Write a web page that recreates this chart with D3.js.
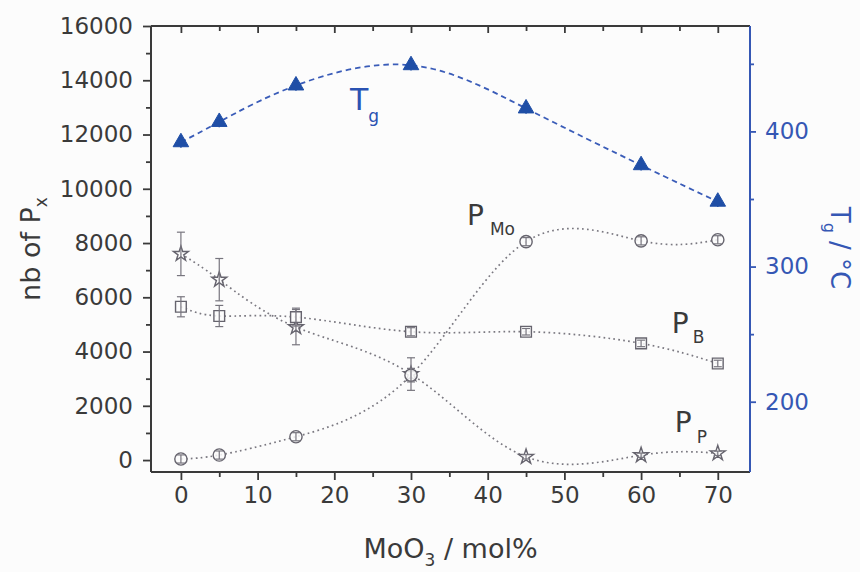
<!DOCTYPE html>
<html>
<head>
<meta charset="utf-8">
<script src="https://cdn.jsdelivr.net/npm/d3@7"></script>
<style>
  html, body { margin: 0; padding: 0; background: #fcfcfc; }
  svg { display: block; font-family: "DejaVu Sans", "Liberation Sans", sans-serif; }
</style>
</head>
<body>
<svg id="chart" width="860" height="572"></svg>
<script>
// MoO3 content (mol%)
const molPct = [0, 5, 15, 30, 45, 60, 70];

// number of P_P, P_B, P_Mo units, with error bars
const nbPP   = [7600, 6650, 4900, 3170, 120, 180, 250];
const errPP  = [800, 780, 650, 600, 80, 80, 80];
const nbPB   = [5650, 5310, 5270, 4730, 4730, 4300, 3560];
const errPB  = [370, 390, 330, 150, 120, 120, 120];
const nbPMo  = [40, 185, 860, 3130, 8050, 8080, 8120];
const errPMo = [150, 150, 150, 250, 150, 150, 150];

// glass transition temperature (°C)
const tg    = [392, 407, 434, 449, 417, 375, 348];
const tgErr = [4, 4, 4, 4, 4, 4, 4];

// tick values
const xTicks      = [0, 10, 20, 30, 40, 50, 60, 70];
const xMinor      = [5, 15, 25, 35, 45, 55, 65];
const yLeftTicks  = [0, 2000, 4000, 6000, 8000, 10000, 12000, 14000, 16000];
const yLeftMinor  = [1000, 3000, 5000, 7000, 9000, 11000, 13000, 15000];
const yRightTicks = [200, 300, 400];
const yRightMinor = [250, 350, 450];

const frame = { left: 151, right: 750, top: 26, bottom: 472 };
const ink = "#3a3a3a";
const blue = "#3557b4";
const markGray = "#66646e";
const bg = "#fcfcfc";

const svg = d3.select("#chart");

const x  = d3.scaleLinear().domain([-3.9, 74.2]).range([frame.left, frame.right]);
const yL = d3.scaleLinear().domain([-440, 16000]).range([frame.bottom, frame.top]);
const yR = d3.scaleLinear().domain([148, 478]).range([frame.bottom, frame.top]);

function styleAxis(g, color) {
  g.select(".domain").remove();
  g.selectAll(".tick line").attr("stroke", color).attr("stroke-width", 1.8);
  g.selectAll(".tick text")
    .attr("fill", color)
    .attr("font-size", 23)
    .attr("font-family", "DejaVu Sans, sans-serif");
}

// bottom axis
svg.append("g").attr("transform", `translate(0,${frame.bottom})`)
  .call(d3.axisBottom(x).tickValues(xTicks).tickSize(8).tickPadding(7).tickFormat(d3.format("d")))
  .call(g => styleAxis(g, ink));
svg.append("g").attr("transform", `translate(0,${frame.bottom})`)
  .call(d3.axisBottom(x).tickValues(xMinor).tickSize(5).tickFormat(""))
  .call(g => styleAxis(g, ink));

// top axis (ticks pointing inward)
svg.append("g").attr("transform", `translate(0,${frame.top})`)
  .call(d3.axisTop(x).tickValues(xTicks).tickSize(-7).tickFormat(""))
  .call(g => styleAxis(g, ink));
svg.append("g").attr("transform", `translate(0,${frame.top})`)
  .call(d3.axisTop(x).tickValues(xMinor).tickSize(-5).tickFormat(""))
  .call(g => styleAxis(g, ink));

// left axis
svg.append("g").attr("transform", `translate(${frame.left},0)`)
  .call(d3.axisLeft(yL).tickValues(yLeftTicks).tickSize(8).tickPadding(10).tickFormat(d3.format("d")))
  .call(g => styleAxis(g, ink));
svg.append("g").attr("transform", `translate(${frame.left},0)`)
  .call(d3.axisLeft(yL).tickValues(yLeftMinor).tickSize(5).tickFormat(""))
  .call(g => styleAxis(g, ink));

// right axis (Tg)
svg.append("g").attr("transform", `translate(${frame.right},0)`)
  .call(d3.axisRight(yR).tickValues(yRightTicks).tickSize(6).tickPadding(9).tickFormat(d3.format("d")))
  .call(g => styleAxis(g, blue));
svg.append("g").attr("transform", `translate(${frame.right},0)`)
  .call(d3.axisRight(yR).tickValues(yRightMinor).tickSize(4).tickFormat(""))
  .call(g => styleAxis(g, blue));

// frame
const fr = svg.append("g").attr("stroke-width", 2).attr("fill", "none");
fr.append("line").attr("x1", frame.left).attr("x2", frame.right).attr("y1", frame.top).attr("y2", frame.top).attr("stroke", ink);
fr.append("line").attr("x1", frame.left).attr("x2", frame.right).attr("y1", frame.bottom).attr("y2", frame.bottom).attr("stroke", ink);
fr.append("line").attr("x1", frame.left).attr("x2", frame.left).attr("y1", frame.top).attr("y2", frame.bottom).attr("stroke", ink);
fr.append("line").attr("x1", frame.right).attr("x2", frame.right).attr("y1", frame.top).attr("y2", frame.bottom).attr("stroke", blue);

// series definitions
const series = [
  { name: "PP",  values: nbPP,  errs: errPP,  symbol: d3.symbolStar,   size: 70 },
  { name: "PB",  values: nbPB,  errs: errPB,  symbol: d3.symbolSquare, size: 115 },
  { name: "PMo", values: nbPMo, errs: errPMo, symbol: d3.symbolCircle, size: 118 }
];

const lineL = d3.line().curve(d3.curveNatural).x(d => x(d[0])).y(d => yL(d[1]));
const lineR = d3.line().curve(d3.curveNatural).x(d => x(d[0])).y(d => yR(d[1]));

// dotted spline connectors
series.forEach(s => {
  svg.append("path")
    .datum(molPct.map((m, i) => [m, s.values[i]]))
    .attr("d", lineL)
    .attr("fill", "none")
    .attr("stroke", "#7a7880")
    .attr("stroke-width", 1.7)
    .attr("stroke-dasharray", "1.7 3.3");
});

// Tg dashed spline
svg.append("path")
  .datum(molPct.map((m, i) => [m, tg[i]]))
  .attr("d", lineR)
  .attr("fill", "none")
  .attr("stroke", "#3a5cb8")
  .attr("stroke-width", 1.8)
  .attr("stroke-dasharray", "5.5 4");

// hollow markers and error bars
series.forEach(s => {
  const g = svg.append("g");
  g.selectAll("path.mk")
    .data(molPct.map((m, i) => [m, s.values[i]]))
    .join("path")
    .attr("class", "mk")
    .attr("transform", d => `translate(${x(d[0])},${yL(d[1])})`)
    .attr("d", d3.symbol(s.symbol, s.size))
    .attr("fill", bg)
    .attr("fill-opacity", 0.85)
    .attr("stroke", markGray)
    .attr("stroke-width", 1.4);

  const eb = g.selectAll("g.eb")
    .data(molPct.map((m, i) => [m, s.values[i], s.errs[i]]))
    .join("g").attr("class", "eb")
    .attr("stroke", "#77757e").attr("stroke-width", 1.2);
  eb.append("line")
    .attr("x1", d => x(d[0])).attr("x2", d => x(d[0]))
    .attr("y1", d => yL(d[1] - d[2])).attr("y2", d => yL(d[1] + d[2]));
  eb.append("line")
    .attr("x1", d => x(d[0]) - 4).attr("x2", d => x(d[0]) + 4)
    .attr("y1", d => yL(d[1] - d[2])).attr("y2", d => yL(d[1] - d[2]));
  eb.append("line")
    .attr("x1", d => x(d[0]) - 4).attr("x2", d => x(d[0]) + 4)
    .attr("y1", d => yL(d[1] + d[2])).attr("y2", d => yL(d[1] + d[2]));
});

// Tg filled triangles with small error bars
const tgData = molPct.map((m, i) => [m, tg[i], tgErr[i]]);
svg.append("g").selectAll("line")
  .data(tgData).join("line")
  .attr("x1", d => x(d[0])).attr("x2", d => x(d[0]))
  .attr("y1", d => yR(d[1] - d[2])).attr("y2", d => yR(d[1] + d[2]))
  .attr("stroke", "#1f4ea6").attr("stroke-width", 1.4);
svg.append("g").selectAll("path")
  .data(tgData).join("path")
  .attr("transform", d => `translate(${x(d[0])},${yR(d[1])})`)
  .attr("d", d3.symbol(d3.symbolTriangle, 105))
  .attr("fill", "#1f4ea6")
  .attr("stroke", "#1f4ea6")
  .attr("stroke-width", 1);

// series labels
function label(px, py, main, sub, color, mainSize, subDx, subDy) {
  const t = svg.append("text")
    .attr("x", px).attr("y", py)
    .attr("fill", color)
    .attr("font-size", mainSize);
  t.append("tspan").text(main);
  t.append("tspan").attr("font-size", 17).attr("dx", subDx).attr("dy", subDy).text(sub);
}
label(x(22.05), yR(415.8), "T", "g", "#2a52b2", 30, 0, 12);
label(x(37.3), yL(8665), "P", "Mo", "#3a3a3a", 28, 6, 10);
label(x(64.0), yL(4684), "P", "B", "#3a3a3a", 28, 4, 10);
label(x(64.4), yL(1034), "P", "P", "#3a3a3a", 28, 5, 11);

// axis titles
const xt = svg.append("text")
  .attr("x", (frame.left + frame.right) / 2).attr("y", 558)
  .attr("text-anchor", "middle").attr("fill", ink).attr("font-size", 27);
xt.append("tspan").text("MoO");
xt.append("tspan").attr("font-size", 17).attr("dy", 8).text("3");
xt.append("tspan").attr("dy", -8).text(" / mol%");

const lt = svg.append("text")
  .attr("transform", "translate(40,249) rotate(-90)")
  .attr("text-anchor", "middle").attr("fill", ink).attr("font-size", 27);
lt.append("tspan").text("nb of P");
lt.append("tspan").attr("font-size", 17).attr("dy", 7).text("x");

const rt = svg.append("text")
  .attr("transform", "translate(831,248) rotate(90)")
  .attr("text-anchor", "middle").attr("fill", blue).attr("font-size", 26);
rt.append("tspan").text("T");
rt.append("tspan").attr("font-size", 16).attr("dy", 7).text("g");
rt.append("tspan").attr("dy", -7).text(" / °C");
</script>
</body>
</html>
